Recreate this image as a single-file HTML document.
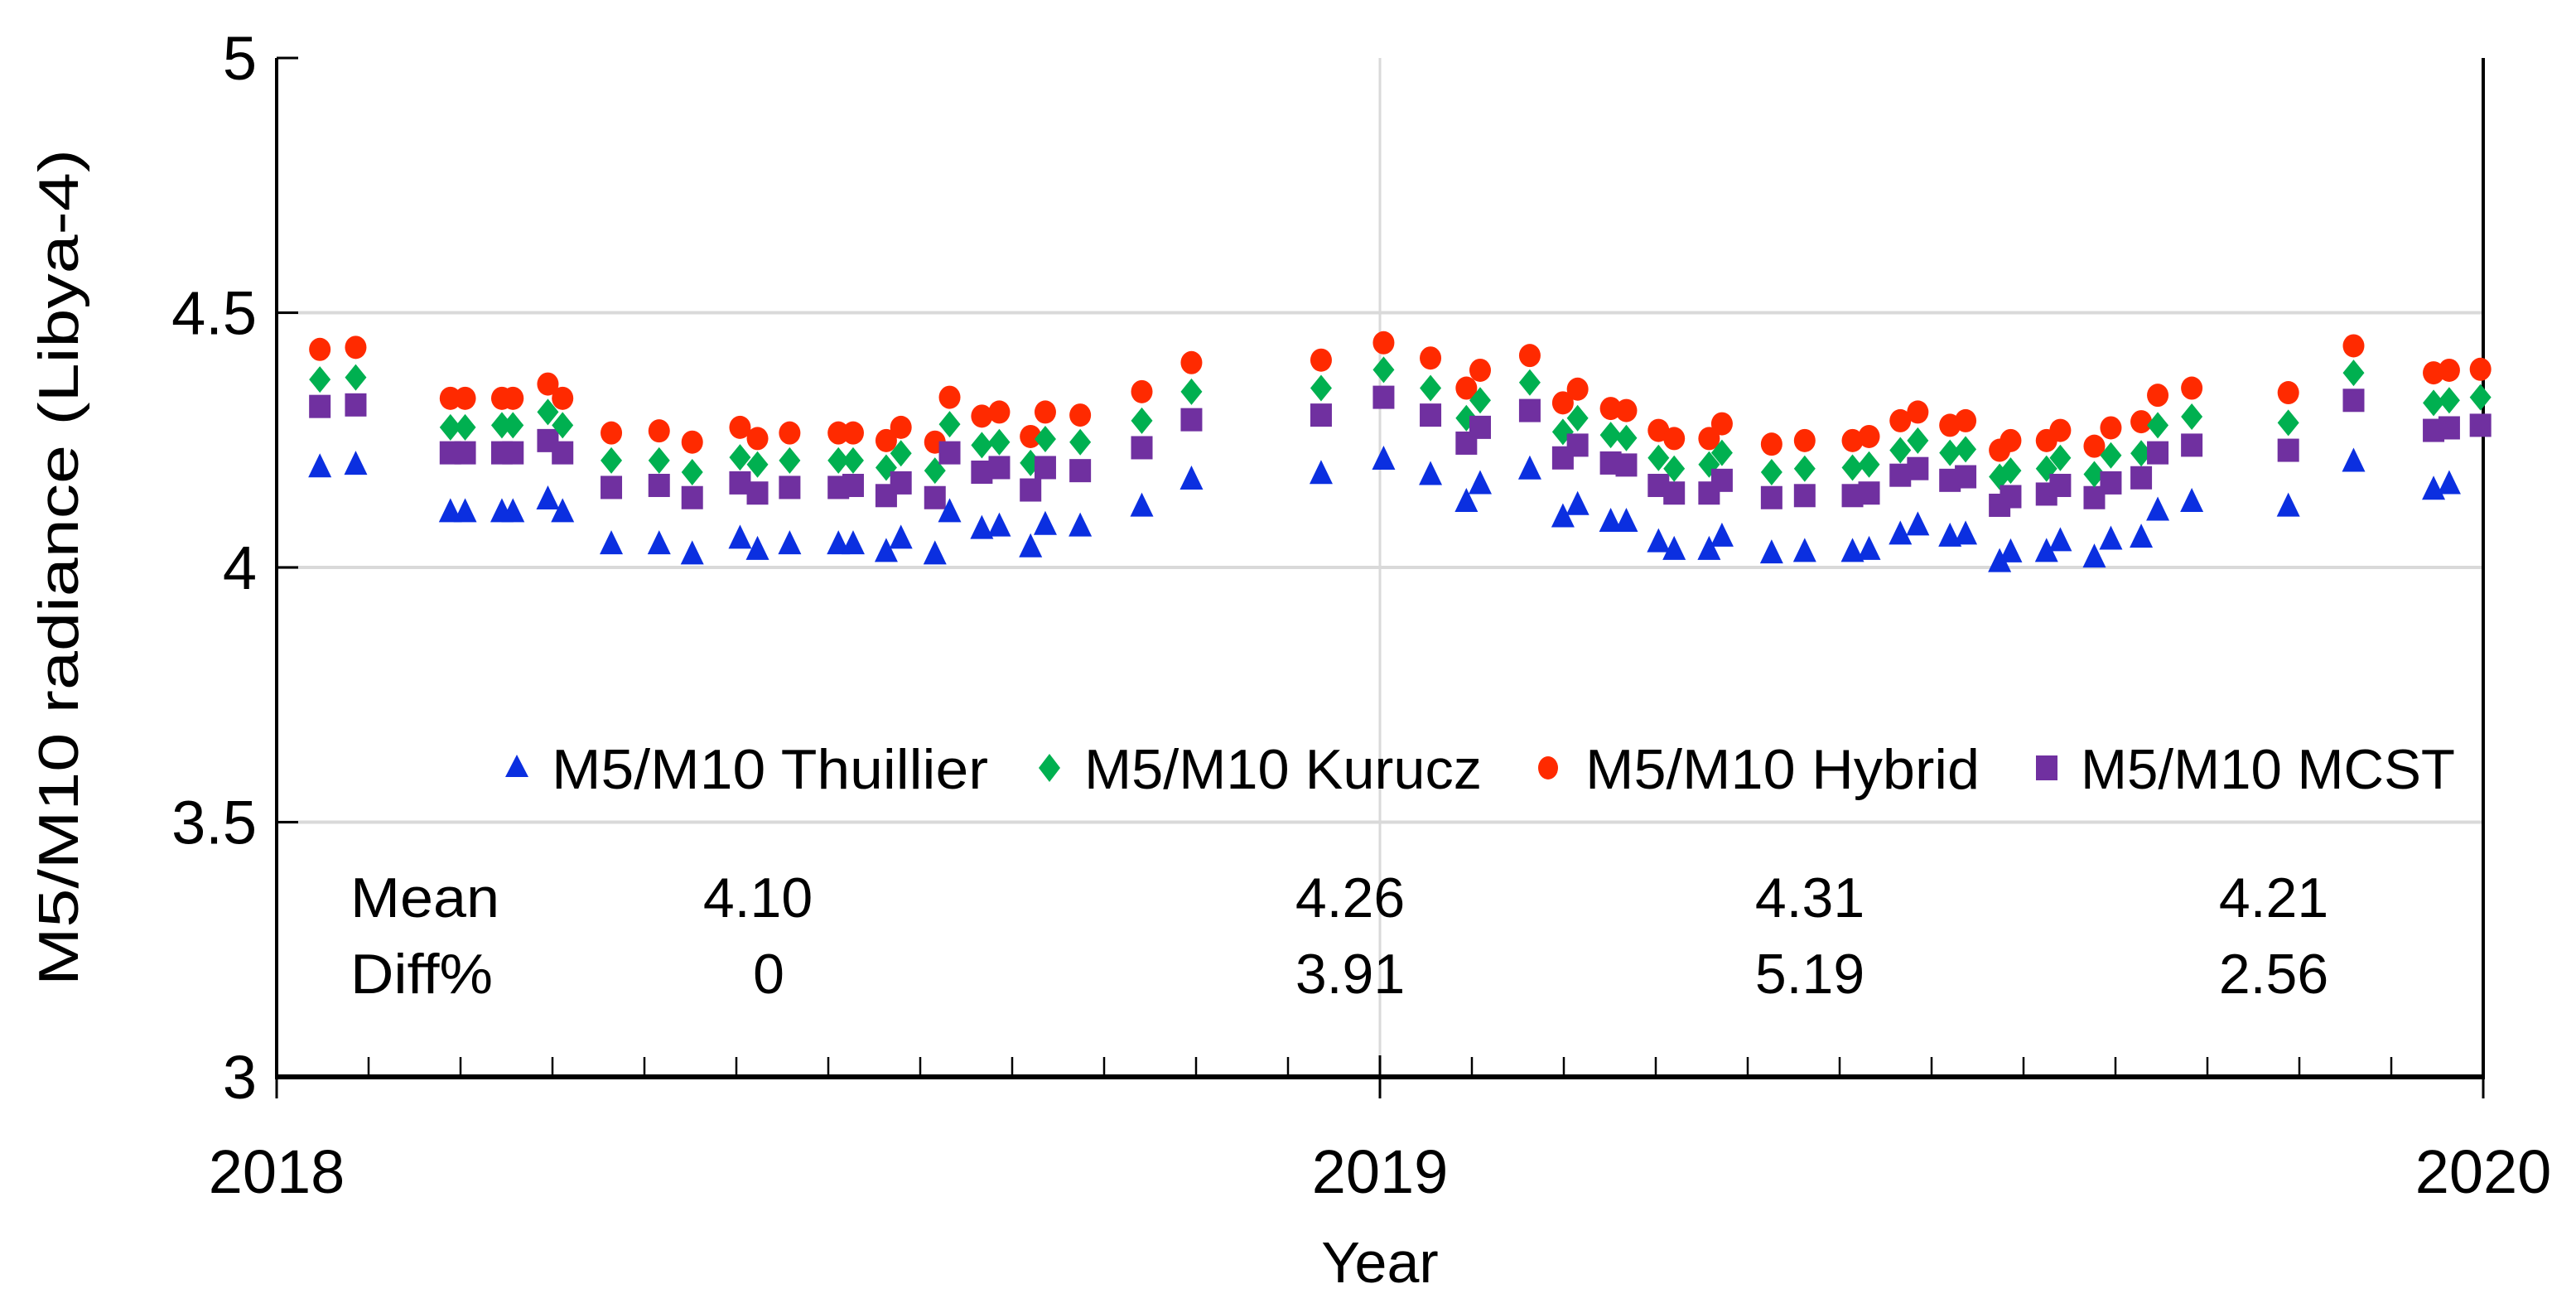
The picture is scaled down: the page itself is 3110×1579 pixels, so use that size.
<!DOCTYPE html>
<html>
<head>
<meta charset="utf-8">
<style>
html,body{margin:0;padding:0;background:#fff;}
svg{display:block;}
text{font-family:"Liberation Sans",sans-serif;fill:#000;}
</style>
</head>
<body>
<svg id="chart" width="3110" height="1579" viewBox="0 0 3110 1579" xmlns="http://www.w3.org/2000/svg">
  <g id="grid"></g>
  <g id="axes"></g>
  <g id="marks"></g>
  <g id="legend">
    <polygon points="624,911 638,938 610,938" fill="#0b2fe0"/>
    <text x="666" y="952" font-size="68" textLength="527" lengthAdjust="spacingAndGlyphs">M5/M10 Thuillier</text>
    <polygon points="1267,910 1280,927 1267,944 1254,927" fill="#00b050"/>
    <text x="1309" y="952" font-size="68" textLength="480" lengthAdjust="spacingAndGlyphs">M5/M10 Kurucz</text>
    <ellipse cx="1869" cy="927" rx="12" ry="14" fill="#ff2a00"/>
    <text x="1914" y="952" font-size="68" textLength="476" lengthAdjust="spacingAndGlyphs">M5/M10 Hybrid</text>
    <rect x="2458" y="912" width="26" height="30" fill="#7030a0"/>
    <text x="2512" y="952" font-size="68" textLength="452" lengthAdjust="spacingAndGlyphs">M5/M10 MCST</text>
  </g>
  <g id="stats">
    <text x="423" y="1107" font-size="68" textLength="180" lengthAdjust="spacingAndGlyphs">Mean</text>
    <text x="423" y="1199" font-size="68" textLength="172" lengthAdjust="spacingAndGlyphs">Diff%</text>
    <text x="915" y="1107" font-size="68" text-anchor="middle">4.10</text>
    <text x="1630" y="1107" font-size="68" text-anchor="middle">4.26</text>
    <text x="2185" y="1107" font-size="68" text-anchor="middle">4.31</text>
    <text x="2745" y="1107" font-size="68" text-anchor="middle">4.21</text>
    <text x="928" y="1199" font-size="68" text-anchor="middle">0</text>
    <text x="1630" y="1199" font-size="68" text-anchor="middle">3.91</text>
    <text x="2185" y="1199" font-size="68" text-anchor="middle">5.19</text>
    <text x="2745" y="1199" font-size="68" text-anchor="middle">2.56</text>
  </g>
  <text transform="translate(94,685) rotate(-90)" font-size="68" text-anchor="middle" textLength="1010" lengthAdjust="spacingAndGlyphs">M5/M10 radiance (Libya-4)</text>
  <text x="1666" y="1548" font-size="70" text-anchor="middle">Year</text>
</svg>
<script>
// months since Jan 2018
const months = [0.47,0.86,1.89,2.05,2.45,2.57,2.95,3.11,3.64,4.16,4.52,5.04,5.23,5.58,6.11,6.27,6.63,6.79,7.16,7.32,7.67,7.86,8.20,8.36,8.74,9.41,9.95,11.36,12.04,12.55,12.94,13.09,13.63,13.99,14.15,14.51,14.68,15.03,15.20,15.58,15.72,16.26,16.62,17.14,17.32,17.66,17.85,18.20,18.37,18.74,18.86,19.25,19.40,19.77,19.95,20.28,20.46,20.83,21.88,22.59,23.46,23.63,23.97];
const thuillier = [4.198,4.203,4.110,4.110,4.110,4.110,4.135,4.110,4.047,4.047,4.027,4.058,4.036,4.047,4.047,4.047,4.032,4.058,4.027,4.110,4.077,4.082,4.041,4.085,4.082,4.121,4.174,4.185,4.213,4.183,4.130,4.165,4.194,4.100,4.124,4.091,4.091,4.051,4.036,4.036,4.062,4.029,4.032,4.032,4.036,4.066,4.084,4.062,4.066,4.012,4.031,4.032,4.053,4.021,4.056,4.060,4.113,4.130,4.121,4.209,4.154,4.165,null];
const kurucz = [4.369,4.373,4.275,4.275,4.279,4.279,4.305,4.279,4.210,4.210,4.187,4.216,4.202,4.210,4.210,4.210,4.196,4.224,4.190,4.281,4.240,4.246,4.205,4.252,4.246,4.288,4.345,4.352,4.388,4.352,4.293,4.328,4.363,4.266,4.293,4.260,4.254,4.215,4.194,4.202,4.225,4.187,4.194,4.196,4.202,4.230,4.249,4.225,4.232,4.178,4.190,4.194,4.215,4.183,4.220,4.224,4.279,4.296,4.284,4.382,4.323,4.328,4.334];
const hybrid = [4.428,4.432,4.332,4.332,4.332,4.332,4.360,4.332,4.264,4.268,4.246,4.275,4.253,4.264,4.264,4.264,4.249,4.275,4.246,4.334,4.297,4.305,4.257,4.305,4.299,4.345,4.402,4.407,4.441,4.411,4.352,4.387,4.416,4.323,4.350,4.312,4.308,4.269,4.253,4.253,4.282,4.242,4.249,4.249,4.257,4.288,4.305,4.279,4.288,4.230,4.249,4.249,4.269,4.238,4.274,4.286,4.338,4.352,4.343,4.435,4.382,4.387,4.389];
const mcst = [4.316,4.319,4.225,4.225,4.225,4.225,4.249,4.225,4.157,4.161,4.137,4.166,4.146,4.157,4.157,4.161,4.141,4.166,4.137,4.225,4.187,4.196,4.152,4.196,4.190,4.235,4.290,4.299,4.334,4.299,4.244,4.275,4.308,4.215,4.240,4.205,4.201,4.161,4.146,4.146,4.171,4.137,4.141,4.141,4.146,4.181,4.194,4.171,4.178,4.122,4.139,4.144,4.161,4.137,4.166,4.176,4.225,4.240,4.230,4.328,4.269,4.274,4.279];
const yTicks = [3,3.5,4,4.5,5];
const yTickLabels = ["3","3.5","4","4.5","5"];
const xYears = [2018,2019,2020];

const NS = "http://www.w3.org/2000/svg";
const X0 = 334, X1 = 2998, Y0 = 1300, Y1 = 70;
function xs(m){ return X0 + (m/24)*(X1-X0); }
function ys(v){ return Y0 - (v-3)/2*(Y0-Y1); }
function mk(tag, attrs, parent){
  const e = document.createElementNS(NS, tag);
  for (const k in attrs) e.setAttribute(k, attrs[k]);
  parent.appendChild(e);
  return e;
}
const grid = document.getElementById('grid');
const axes = document.getElementById('axes');
const marks = document.getElementById('marks');

yTicks.forEach((v,i)=>{
  const y = ys(v);
  if (v>3 && v<5){
    const g = mk('line',{x1:X0,x2:X1,y1:y,y2:y,stroke:'#d9d9d9','stroke-width':4},grid);
    
    
  }
  const t = mk('line',{x1:X0,x2:X0+26,y1:y,y2:y,stroke:'#000','stroke-width':3},axes);
  
  
  const l = mk('text',{x:310,y:y+26,'font-size':74,'text-anchor':'end'},axes);
  l.textContent = yTickLabels[i];
  
  
});
const vg = mk('line',{x1:xs(12),x2:xs(12),y1:Y1,y2:Y0,stroke:'#d9d9d9','stroke-width':3},grid);


for (let m=1;m<24;m++){
  if (m===12) continue;
  const t = mk('line',{x1:xs(m),x2:xs(m),y1:Y0,y2:Y0-24,stroke:'#000','stroke-width':2.5},axes);
  
  
}
xYears.forEach((yr,i)=>{
  const x = xs(i*12);
  const t = mk('line',{x1:x,x2:x,y1:Y0-26,y2:Y0+26,stroke:'#000','stroke-width':3},axes);
  
  
  const l = mk('text',{x:x,y:1440,'font-size':74,'text-anchor':'middle'},axes);
  l.textContent = String(yr);
  
  
});
const la = mk('line',{x1:X0,x2:X0,y1:Y1,y2:Y0+3,stroke:'#000','stroke-width':4},axes);


const ra = mk('line',{x1:X1,x2:X1,y1:Y1,y2:Y0+3,stroke:'#000','stroke-width':4},axes);


const xa = mk('line',{x1:X0-2,x2:X1+2,y1:Y0,y2:Y0,stroke:'#000','stroke-width':6},axes);



months.forEach((m,i)=>{
  const x = xs(m);
  let v, y, e;
  v = mcst[i];
  if (v!=null){ y=ys(v);
    e = mk('rect',{x:x-13,y:y-14,width:26,height:28,fill:'#7030a0'},marks);
    
     }
  v = kurucz[i];
  if (v!=null){ y=ys(v);
    e = mk('polygon',{points:`${x},${y-16} ${x+13},${y} ${x},${y+16} ${x-13},${y}`,fill:'#00b050'},marks);
    
     }
  v = hybrid[i];
  if (v!=null){ y=ys(v);
    e = mk('ellipse',{cx:x,cy:y,rx:13,ry:14,fill:'#ff2a00'},marks);
    
     }
  v = thuillier[i];
  if (v!=null){ y=ys(v);
    e = mk('polygon',{points:`${x},${y-16} ${x+14},${y+13} ${x-14},${y+13}`,fill:'#0b2fe0'},marks);
    
     }
});
</script>
</body>
</html>
